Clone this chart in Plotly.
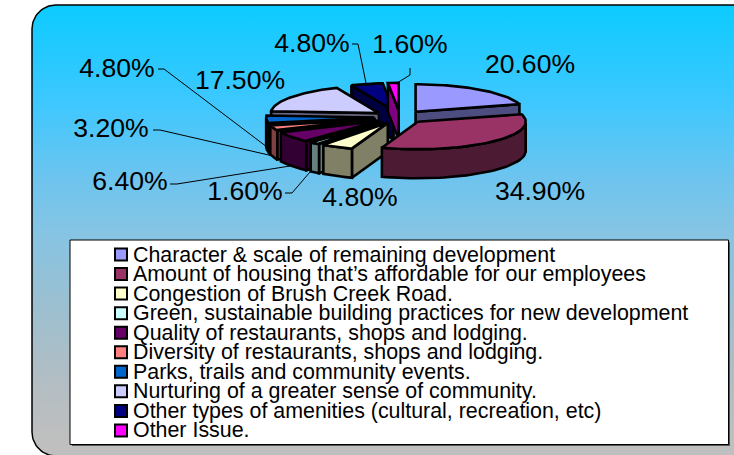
import numpy as np
import plotly.graph_objects as go

categories = [
    "Character & scale of remaining development",
    "Amount of housing that’s affordable for our employees",
    "Congestion of Brush Creek Road.",
    "Green, sustainable building practices for new development",
    "Quality of restaurants, shops and lodging.",
    "Diversity of restaurants, shops and lodging.",
    "Parks, trails and community events.",
    "Nurturing of a greater sense of community.",
    "Other types of amenities (cultural, recreation, etc)",
    "Other Issue.",
]
values = [20.6, 34.9, 4.8, 1.6, 6.4, 3.2, 4.8, 17.5, 4.8, 1.6]
top_colors = ["#9999FF", "#993366", "#FFFFCC", "#CCFFFF", "#660066",
              "#FF8080", "#0066CC", "#CCCCFF", "#000080", "#FF00FF"]
side_colors = ["#4D4D80", "#4D1A33", "#808066", "#668080", "#330033",
               "#804040", "#003366", "#666680", "#000040", "#800080"]

label_xy = [(530, 66), (540, 193), (360, 199), (245, 193), (130, 183),
            (111, 130), (117, 70), (240, 82), (312, 45), (410, 46)]
leaders = [
    [(285, 193), (292, 193), (310, 172)],
    [(170, 184), (177, 184), (290, 166)],
    [(153, 130), (160, 130), (273, 156)],
    [(158, 69), (164, 69), (267, 147)],
    [(352, 44), (358, 44), (366, 83)],
    [(410, 68), (410, 75), (397, 83)],
]

CX, CY, RX, RY, DEPTH, EXPLODE = 400, 117, 108, 27.5, 29, 0.24
DRAW_ORDER = [8, 9, 0, 7, 6, 5, 4, 3, 2, 1]

fig = go.Figure()


def poly(xs, ys, fill, width=2.6, color="black"):
    fig.add_trace(go.Scatter(x=list(xs) + [xs[0]], y=list(ys) + [ys[0]], mode="lines", fill="toself",
                             fillcolor=fill, line=dict(color=color, width=width), hoverinfo="skip"))


# rounded panel with gradient
L, T, R, B, r = 32, 5, 770, 456, 24
t = np.linspace(0, np.pi / 2, 20)
px = np.concatenate([L + r - r * np.cos(t), R - r + r * np.sin(t), R - r + r * np.cos(t), L + r - r * np.sin(t)])
py = np.concatenate([T + r - r * np.sin(t), T + r - r * np.cos(t), B - r + r * np.sin(t), B - r + r * np.cos(t)])
fig.add_trace(go.Scatter(
    x=np.append(px, px[0]), y=np.append(py, py[0]), mode="lines", fill="toself",
    line=dict(color="black", width=1.5), hoverinfo="skip",
    fillgradient=dict(type="vertical", colorscale=[
        [0, "#BFBFBF"], [0.035, "#BFBFBF"], [0.168, "#B2BDC3"], [0.346, "#9AC0D2"],
        [0.49, "#87C4E3"], [0.612, "#6EC4EE"], [0.789, "#3CC8FF"], [1, "#0CCBFF"]]),
))

# 3-D exploded pie built from the values
edges = np.cumsum([0] + values) / sum(values) * 2 * np.pi
for i in DRAW_ORDER:
    a0, a1 = edges[i], edges[i + 1]
    mid = (a0 + a1) / 2
    ax = CX + EXPLODE * RX * np.sin(mid)
    ay = CY - EXPLODE * RY * np.cos(mid)
    th = np.linspace(a0, a1, 50)
    rimx = ax + RX * np.sin(th)
    rimy = ay - RY * np.cos(th)
    for ang, vis in ((a0, np.sin(a0) < -1e-6), (a1, np.sin(a1) > 1e-6)):
        if vis:
            ex, ey = ax + RX * np.sin(ang), ay - RY * np.cos(ang)
            poly([ax, ex, ex, ax], [ay, ey, ey + DEPTH, ay + DEPTH], side_colors[i])
    front = -np.cos(th) >= 0
    if front.any():
        fx, fy = rimx[front], rimy[front]
        poly(np.concatenate([fx, fx[::-1]]), np.concatenate([fy, fy[::-1] + DEPTH]), side_colors[i])
    poly(np.concatenate([[ax], rimx]), np.concatenate([[ay], rimy]), top_colors[i])

# leader lines
for seg in leaders:
    fig.add_trace(go.Scatter(x=[p[0] for p in seg], y=[p[1] for p in seg], mode="lines",
                             line=dict(color="black", width=1), hoverinfo="skip"))

# data labels
fig.add_trace(go.Scatter(
    x=[p[0] for p in label_xy], y=[p[1] for p in label_xy], mode="text",
    text=[f"{v:.2f}%" for v in values], textposition="middle center",
    textfont=dict(family="Liberation Sans", size=26.6, color="black"), hoverinfo="skip",
))

# legend box with its thin shadow
poly([72, 730, 730, 72], [242, 242, 446, 446], "#555555", width=0, color="rgba(0,0,0,0)")
poly([70, 728.5, 728.5, 70], [240, 240, 444.5, 444.5], "white", width=1)

row_y = [254.5 + 19.55 * k for k in range(len(categories))]
fig.add_trace(go.Scatter(
    x=[121] * len(categories), y=row_y,
    mode="markers", marker=dict(symbol="square", size=12, color=top_colors, line=dict(color="black", width=2)),
    hoverinfo="skip",
))
for c, y in zip(categories, row_y):
    fig.add_annotation(x=132.5, y=y, text=c, xanchor="left", yanchor="middle", showarrow=False,
                       font=dict(family="Liberation Sans", size=21.4, color="black"), borderpad=0, borderwidth=0)

fig.update_layout(
    width=734, height=455, margin=dict(l=0, r=0, t=0, b=0), showlegend=False,
    paper_bgcolor="white", plot_bgcolor="white", hovermode=False,
    xaxis=dict(range=[0, 734], visible=False, fixedrange=True),
    yaxis=dict(range=[455, 0], visible=False, fixedrange=True),
)
fig.write_html("out.html", post_script="document.body.style.margin='0';document.body.style.overflow='hidden';",
               config={"displayModeBar": False})
